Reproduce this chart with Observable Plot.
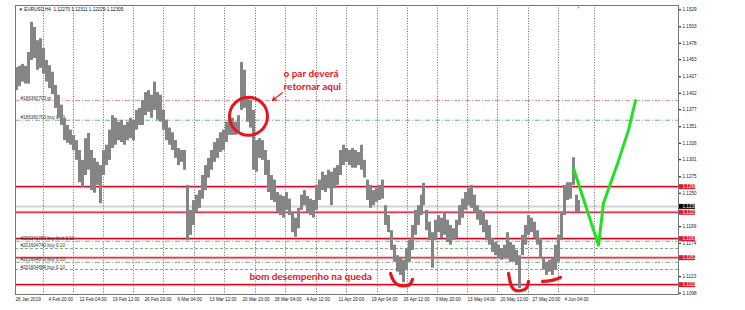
<!DOCTYPE html>
<html><head><meta charset="utf-8">
<script src="https://cdn.jsdelivr.net/npm/d3@7"></script>
<script src="https://cdn.jsdelivr.net/npm/@observablehq/plot@0.6"></script>
<style>html,body{margin:0;padding:0;background:#fff}svg{display:block}</style>
</head><body><div id="chart"></div>
<script>
// H4 bar index (x) and high / low price
const bars = [1,4,7,10,13,16,19,22,25,28,31,34,37,40,43,46,49,52,55,58,61,64,67,70,73,76,79,82,85,88,91,94,97,100,103,106,109,112,115,118,121,124,127,130,133,136,139,142,145,148,151,154,157,160,163,166,169,172,175,178,181,184,187,190,193,196,199,202,205,208,211,214,217,220,223,226,229,232,235,238,241,244,247,250,253,256,259,262,265,268,271,274,277,280,283,286,289,292,295,298,301,304,307,310,313,316,319,322,325,328,331,334,337,340,343,346,349,352,355,358,361,364,367,370,373,376,379,382,385,388,391,394,397,400,403,406,408,411,414,417,420,423,426,429,432,435,438,441,444,447,450,453,456,459,462,465,468,471,474,477,480,483,486,489,492,495,498,501,504,507,510,513,516,519,522,525,528,531,534,537,540,543,546,549,552,555,558,561,563];
const highs = [1.1441,1.1443,1.1446,1.1443,1.1464,1.1510,1.1502,1.1482,1.1485,1.1470,1.1452,1.1444,1.1434,1.1414,1.1399,1.1384,1.1364,1.1353,1.1346,1.1338,1.1330,1.1315,1.1300,1.1333,1.1341,1.1315,1.1303,1.1297,1.1292,1.1315,1.1323,1.1346,1.1368,1.1364,1.1358,1.1361,1.1353,1.1358,1.1364,1.1361,1.1376,1.1379,1.1391,1.1403,1.1406,1.1399,1.1419,1.1403,1.1399,1.1376,1.1361,1.1349,1.1342,1.1330,1.1318,1.1315,1.1315,1.1262,1.1224,1.1239,1.1247,1.1254,1.1277,1.1292,1.1303,1.1315,1.1327,1.1333,1.1342,1.1346,1.1358,1.1368,1.1364,1.1358,1.1368,1.1449,1.1437,1.1394,1.1391,1.1376,1.1330,1.1333,1.1330,1.1315,1.1300,1.1277,1.1270,1.1251,1.1247,1.1245,1.1251,1.1241,1.1221,1.1212,1.1227,1.1247,1.1254,1.1245,1.1241,1.1239,1.1262,1.1270,1.1282,1.1277,1.1285,1.1282,1.1288,1.1292,1.1315,1.1323,1.1318,1.1315,1.1318,1.1315,1.1312,1.1323,1.1300,1.1270,1.1262,1.1254,1.1257,1.1262,1.1270,1.1231,1.1216,1.1193,1.1171,1.1155,1.1151,1.1148,1.1166,1.1178,1.1201,1.1224,1.1231,1.1247,1.1265,1.1224,1.1206,1.1190,1.1209,1.1216,1.1212,1.1221,1.1209,1.1201,1.1196,1.1209,1.1231,1.1241,1.1251,1.1257,1.1262,1.1247,1.1231,1.1224,1.1221,1.1209,1.1201,1.1181,1.1175,1.1171,1.1166,1.1171,1.1190,1.1175,1.1171,1.1163,1.1155,1.1186,1.1201,1.1216,1.1212,1.1206,1.1193,1.1181,1.1151,1.1145,1.1148,1.1151,1.1171,1.1186,1.1221,1.1262,1.1266,1.1266,1.1304,1.1247,1.1239];
const lows = [1.1406,1.1412,1.1419,1.1416,1.1416,1.1452,1.1455,1.1437,1.1440,1.1431,1.1419,1.1409,1.1400,1.1379,1.1364,1.1353,1.1330,1.1326,1.1323,1.1315,1.1300,1.1266,1.1259,1.1277,1.1285,1.1254,1.1250,1.1262,1.1234,1.1277,1.1292,1.1300,1.1318,1.1323,1.1330,1.1327,1.1323,1.1330,1.1333,1.1330,1.1346,1.1353,1.1353,1.1368,1.1373,1.1364,1.1376,1.1361,1.1358,1.1346,1.1330,1.1323,1.1315,1.1303,1.1292,1.1297,1.1285,1.1178,1.1186,1.1201,1.1221,1.1227,1.1241,1.1254,1.1273,1.1285,1.1297,1.1303,1.1312,1.1315,1.1327,1.1338,1.1338,1.1338,1.1342,1.1376,1.1379,1.1358,1.1349,1.1285,1.1282,1.1303,1.1300,1.1277,1.1251,1.1239,1.1236,1.1221,1.1216,1.1212,1.1224,1.1216,1.1190,1.1183,1.1196,1.1224,1.1231,1.1221,1.1216,1.1212,1.1224,1.1239,1.1254,1.1251,1.1257,1.1231,1.1257,1.1262,1.1277,1.1292,1.1297,1.1292,1.1288,1.1288,1.1292,1.1285,1.1273,1.1239,1.1227,1.1231,1.1236,1.1239,1.1241,1.1201,1.1190,1.1163,1.1145,1.1130,1.1125,1.1114,1.1133,1.1145,1.1163,1.1186,1.1201,1.1216,1.1231,1.1193,1.1178,1.1136,1.1178,1.1190,1.1181,1.1186,1.1175,1.1171,1.1178,1.1181,1.1201,1.1212,1.1224,1.1231,1.1227,1.1221,1.1209,1.1201,1.1190,1.1178,1.1171,1.1160,1.1155,1.1151,1.1148,1.1151,1.1151,1.1145,1.1145,1.1140,1.1105,1.1155,1.1171,1.1186,1.1190,1.1181,1.1171,1.1151,1.1133,1.1125,1.1130,1.1125,1.1133,1.1145,1.1178,1.1216,1.1239,1.1241,1.1262,1.1221,1.1221];

// time axis
const xTickBars = [0,33,64,97,129,162,194,227,259,291,323,356,388,420,452,485,517,549];
const xTickLabels = ["28 Jan 2019","4 Feb 20:00","12 Feb 04:00","19 Feb 12:00","26 Feb 20:00","6 Mar 04:00","13 Mar 12:00","20 Mar 20:00","28 Mar 04:00","4 Apr 12:00","11 Apr 20:00","19 Apr 04:00","26 Apr 12:00","3 May 20:00","13 May 04:00","20 May 12:00","27 May 20:00","4 Jun 04:00"];
const gridBars = [28,58,88,118,148,179,209,240,270,301,331,362,392,422,452,482,513,543,579];

// price axis (1.1225 and 1.1148 are hidden behind the level boxes)
const yTicks = [1.1098,1.1123,1.1174,1.1199,1.1250,1.1275,1.1301,1.1326,1.1351,1.1377,1.1402,1.1427,1.1453,1.1478,1.1503,1.1529];
const redLevels = [1.1260,1.1221,1.1181,1.1152,1.1111];
const bidPrice = 1.1230;
const header = "\u25BC EURUSD,H4  1.12270 1.12311 1.12229 1.12305";

// order lines
const orderPrices = [1.1391,1.1361,1.1177,1.1166,1.1145,1.1134];
const orderLabels = ["#186360703 tp","#186360703 buy 0.10","#200241080 buy limit 0.10","#201604740 buy 0.10","#201604870 buy 0.10","#201604884 buy 0.10"];
const orderKinds = ["tp","open","open","dash","open","dash"];

// hand-drawn annotations (bar, price)
const circleCenter = [{bar:233, price:1.1367}];
const noteTop = ["o par deverá","retornar aqui"];
const noteTopPos = [{bar:268, price:1.1432},{bar:268, price:1.1412}];
const arrowPts = [{bar1:267, p1:1.1403, bar2:257, p2:1.1391}];
const noteBottom = "bom desempenho na queda";
const noteBottomPos = {bar:234, price:1.1123};
const swooshGroup = ["a","a","a","a","a","a","b","b","b","b","b","b","c","c","c"];
const swooshBars  = [375,378,382,388,394,397, 493,496,499,506,511,513, 527,535,545];
const swooshPrices= [1.1128,1.1117,1.1111,1.1109,1.1111,1.1119, 1.1128,1.1109,1.1103,1.1102,1.1106,1.1116, 1.1116,1.1117,1.1122];
const greenBars = [558,583,588,602,613,620];
const greenPrices = [1.1288,1.1171,1.1235,1.1295,1.1346,1.1391];

// ---- build ----
const X_MAX = 663;
const series = bars.map((b,i)=>({bar:b, high:highs[i], low:lows[i]}));
const orders = orderPrices.map((p,i)=>({price:p, label:orderLabels[i], kind:orderKinds[i]}));
const swoosh = swooshBars.map((b,i)=>({bar:b, price:swooshPrices[i], g:swooshGroup[i]}));
const green = greenBars.map((b,i)=>({bar:b, price:greenPrices[i]}));
const notes = noteTop.map((t,i)=>({text:t, ...noteTopPos[i]}));
const RED = "#e8141e";
const small = 4.6;

const chart = Plot.plot({
  width: 745, height: 310,
  marginLeft: 15, marginRight: 67, marginTop: 5, marginBottom: 16,
  style: {fontFamily: "'Liberation Sans','DejaVu Sans',sans-serif", background: "#fff", overflow: "visible"},
  x: {domain: [0, X_MAX]},
  y: {domain: [1.1096, 1.15355]},
  marks: [
    Plot.ruleY([bidPrice], {stroke: "#d4d4d4", strokeWidth: 2}),
    Plot.ruleX(gridBars, {stroke: "#444", strokeWidth: 0.8, strokeDasharray: "1,1.6"}),
    Plot.ruleY(redLevels, {stroke: "#f5b9bf", strokeWidth: 3}),
    Plot.ruleY(redLevels, {stroke: "#c8102e", strokeWidth: 1.1}),
    Plot.ruleY(orders.filter(d=>d.kind==="tp"), {y: "price", stroke: "#e07a7a", strokeWidth: 0.8, strokeDasharray: "5,2,1,2"}),
    Plot.ruleY(orders.filter(d=>d.kind==="open"), {y: "price", stroke: "#5a9a5a", strokeWidth: 0.8, strokeDasharray: "5,2,1,2"}),
    Plot.ruleY(orders.filter(d=>d.kind==="dash"), {y: "price", stroke: "#5a9a5a", strokeWidth: 0.8, strokeDasharray: "3,2"}),
    Plot.text(orders, {y: "price", text: "label", frameAnchor: "left", dx: 5, dy: -1, lineAnchor: "bottom", textAnchor: "start", fontSize: small, fill: "#333"}),
    Plot.ruleX(series, {x: "bar", y1: "low", y2: "high", stroke: "#858585", strokeWidth: 3}),
    Plot.text([header], {frameAnchor: "top-left", dx: 3, dy: 2, lineAnchor: "top", fontSize: small, fill: "#111"}),
    Plot.text(["\u25BC"], {x: [bars[bars.length-1]], frameAnchor: "top", dy: 1, lineAnchor: "top", fontSize: 4, fill: "#999"}),
    // annotations
    Plot.dot(circleCenter, {x: "bar", y: "price", r: 19, stroke: RED, strokeWidth: 3, fill: "none"}),
    Plot.text(notes, {x: "bar", y: "price", text: "text", textAnchor: "start", fontSize: 10, fontWeight: "bold", fill: RED, fontFamily: "Lato, 'Open Sans', sans-serif"}),
    Plot.arrow(arrowPts, {x1: "bar1", y1: "p1", x2: "bar2", y2: "p2", stroke: RED, strokeWidth: 1.2, headLength: 5}),
    Plot.text([noteBottom], {x: [noteBottomPos.bar], y: [noteBottomPos.price], textAnchor: "start", fontSize: 10, fontWeight: "bold", fill: RED, fontFamily: "Lato, 'Open Sans', sans-serif"}),
    Plot.line(swoosh, {x: "bar", y: "price", z: "g", stroke: RED, strokeWidth: 3.2, curve: "catmull-rom", strokeLinecap: "round", strokeLinejoin: "round"}),
    Plot.line(green, {x: "bar", y: "price", stroke: "#22e022", strokeWidth: 3, curve: "linear", strokeLinecap: "round", strokeLinejoin: "round"}),
    // axes
    Plot.axisX(xTickBars, {tickFormat: d => xTickLabels[xTickBars.indexOf(d)], textAnchor: "start", tickSize: 0, tickPadding: 3, fontSize: small, fill: "#222"}),
    Plot.axisY(yTicks, {anchor: "right", tickSize: 2, tickPadding: 2, fontSize: small, fill: "#222", tickFormat: d => d.toFixed(4)}),
    Plot.ruleY(redLevels, {x1: X_MAX + 1, x2: X_MAX + 17, stroke: "#e3192d", strokeWidth: 5}),
    Plot.text(redLevels, {y: d => d, text: d => d.toFixed(4), frameAnchor: "right", dx: 4, textAnchor: "start", fontSize: small, fill: "#fff"}),
    Plot.ruleY([bidPrice], {x1: X_MAX + 1, x2: X_MAX + 17, stroke: "#000", strokeWidth: 5}),
    Plot.text([bidPrice], {y: d => d, text: d => d.toFixed(4), frameAnchor: "right", dx: 4, textAnchor: "start", fontSize: small, fill: "#fff"}),
    Plot.frame({stroke: "#777", strokeWidth: 1})
  ]
});
document.getElementById("chart").append(chart);
</script>
</body></html>
